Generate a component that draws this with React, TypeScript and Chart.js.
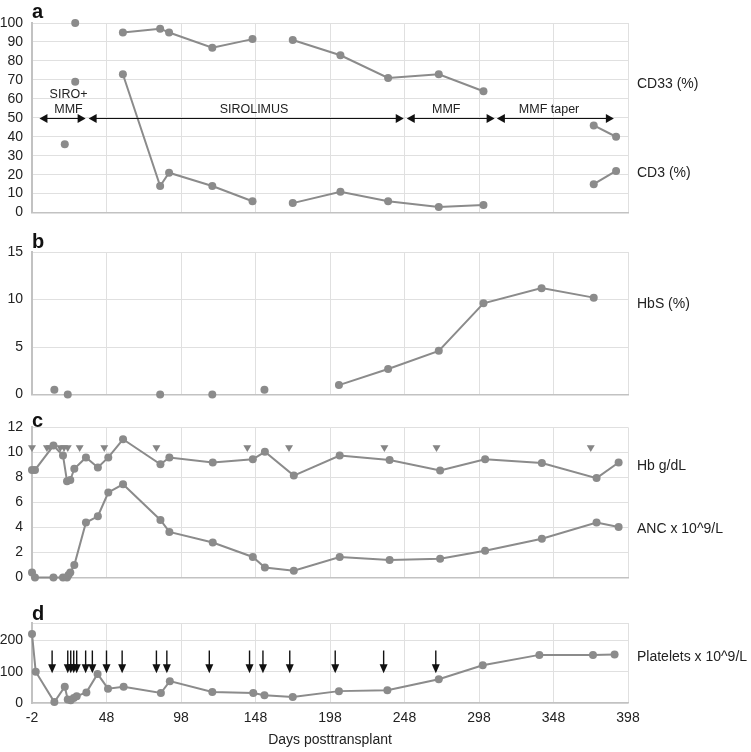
import React, { useEffect, useRef } from "react";
import { Chart, registerables } from "chart.js";

Chart.register(...registerables);

// ---------------- data ----------------
const X_TICKS = [-2, 48, 98, 148, 198, 248, 298, 348, 398];

// Panel a: CD33 / CD3 chimerism (%), null = break in line
const CD33_DAYS = [27, null, 59, 84, 90, 119, 146, null, 173, 205, 237, 271, 301, null, 375, 390];
const CD33_VALUES = [100, null, 95, 97, 95, 87, 91.5, null, 91, 83, 71, 73, 64, null, 46, 40];
const CD3_DAYS = [20, null, 27, null, 59, 84, 90, 119, 146, null, 173, 205, 237, 271, 301, null, 375, 390];
const CD3_VALUES = [36, null, 69, null, 73, 14, 21, 14, 6, null, 5, 11, 6, 3, 4, null, 15, 22];
const CD_TICKS = [0, 10, 20, 30, 40, 50, 60, 70, 80, 90, 100];

// Therapy periods (panel a)
const THERAPY_LABELS = [["SIRO+", "MMF"], ["SIROLIMUS"], ["MMF"], ["MMF taper"]];
const THERAPY_START = [3, 36, 249.5, 310];
const THERAPY_END = [34, 247.5, 308.5, 388.5];
const THERAPY_TEXT_DAY = [22.5, 147, 276, 345];
const THERAPY_LEVEL = 50;

// Panel b: HbS (%)
const HBS_DAYS = [13, null, 22, null, 84, null, 119, null, 154, null, 204, 237, 271, 301, 340, 375];
const HBS_VALUES = [0.5, null, 0, null, 0, null, 0, null, 0.5, null, 1.0, 2.7, 4.6, 9.6, 11.2, 10.2];
const HBS_TICKS = [0, 5, 10, 15];

// Panel c: Hb g/dL and ANC x10^9/L
const HB_DAYS = [-2, 0, 12.4, 18.8, 21.5, 23.7, 26.4, 34.2, 42.2, 49.2, 59.1, 84.2, 90.2, 119.3, 146.2, 154.3, 173.7, 204.5, 238, 271.9, 302.1, 340.2, 376.9, 391.7];
const HB_VALUES = [8.6, 8.6, 10.55, 9.75, 7.7, 7.8, 8.7, 9.6, 8.8, 9.6, 11.05, 9.05, 9.6, 9.2, 9.45, 10.05, 8.15, 9.75, 9.4, 8.55, 9.45, 9.15, 7.95, 9.2];
const ANC_DAYS = [-2, 0, 12.4, 18.8, 21.5, 22.5, 23.7, 26.4, 34.2, 42.2, 49.2, 59.1, 84.2, 90.2, 119.3, 146.2, 154.3, 173.7, 204.5, 238, 271.9, 302.1, 340.2, 376.9, 391.7];
const ANC_VALUES = [0.4, 0, 0, 0, 0, 0.2, 0.4, 1.0, 4.4, 4.9, 6.8, 7.45, 4.6, 3.65, 2.8, 1.65, 0.8, 0.55, 1.65, 1.4, 1.5, 2.15, 3.1, 4.4, 4.05];
const RBC_TX_DAYS = [-2, 8, 10, 17, 19.5, 22, 30, 46.5, 81.5, 142.5, 170.5, 234.5, 269.5, 373];
const RBC_TX_LEVEL = 10.4;
const HB_TICKS = [0, 2, 4, 6, 8, 10, 12];

// Panel d: platelets x10^9/L
const PLT_DAYS = [-2, 0.5, 13, 20, 22, 24, 26, 28, 34.5, 42, 49, 59.5, 84.5, 90.5, 119, 146.5, 154, 173, 204, 236.5, 271, 300.5, 338.5, 374.5, 389];
const PLT_VALUES = [221, 100, 3, 52, 11, 9, 16, 22, 34, 93, 46, 52, 32, 70, 35, 32, 25, 19, 38, 41, 76, 121, 154, 154, 155];
const PLT_TX_DAYS = [11.5, 22, 24, 26, 28, 34, 38.5, 48, 58.5, 81.5, 88.5, 117, 144, 153, 171, 201.5, 234, 269];
const PLT_TICKS = [0, 100, 200];
const PLT_MAX = 256;

// ---------------- styles ----------------
const W = 751;
const LEFT = 32;
const RIGHT = 628;
const FAMILY = "'Liberation Sans', Arial, Helvetica, sans-serif";
const GREY = "#8b8b8b";
const GRID = "#e0e0e0";
const AXIS = "#c2c2c2";
const TEXT = "#222222";

type Seg = { x: number; y: number }[];

function segments(days: (number | null)[], values: (number | null)[]): Seg[] {
  const out: Seg[] = [];
  let cur: Seg = [];
  days.forEach((d, i) => {
    const v = values[i];
    if (d === null || v === null || v === undefined) {
      if (cur.length) out.push(cur);
      cur = [];
    } else {
      cur.push({ x: d, y: v });
    }
  });
  if (cur.length) out.push(cur);
  return out;
}

function lineDs(data: Seg) {
  return {
    data,
    borderColor: GREY,
    backgroundColor: GREY,
    borderWidth: 2,
    pointRadius: 4,
    pointHoverRadius: 4,
    pointBackgroundColor: GREY,
    pointBorderWidth: 0,
    tension: 0,
    clip: false,
    spanGaps: false,
  };
}

type PanelCfg = {
  key: string;
  top: number;
  height: number;
  padTop: number;
  padBottom: number;
  xHeight: number;
  showX: boolean;
  yMax: number;
  yTicks: number[];
  yLabels: number[];
  datasets: any[];
  letter: string;
  letterDy: number;
  labels: { text: string; value: number }[];
  extra?: (chart: any) => void;
};

function drawTherapy(chart: any) {
  const { ctx, scales } = chart;
  const sx = scales.x;
  const sy = scales.y;
  const y = Math.round(sy.getPixelForValue(THERAPY_LEVEL)) + 0.5;
  ctx.strokeStyle = "#111";
  ctx.fillStyle = "#111";
  ctx.lineWidth = 1;
  THERAPY_LABELS.forEach((lines, i) => {
    const x1 = sx.getPixelForValue(THERAPY_START[i]);
    const x2 = sx.getPixelForValue(THERAPY_END[i]);
    ctx.beginPath();
    ctx.moveTo(x1 + 4, y);
    ctx.lineTo(x2 - 4, y);
    ctx.stroke();
    ctx.beginPath();
    ctx.moveTo(x1, y);
    ctx.lineTo(x1 + 8, y - 4.5);
    ctx.lineTo(x1 + 8, y + 4.5);
    ctx.closePath();
    ctx.fill();
    ctx.beginPath();
    ctx.moveTo(x2, y);
    ctx.lineTo(x2 - 8, y - 4.5);
    ctx.lineTo(x2 - 8, y + 4.5);
    ctx.closePath();
    ctx.fill();
  });
  ctx.fillStyle = TEXT;
  ctx.font = `12.5px ${FAMILY}`;
  ctx.textAlign = "center";
  ctx.textBaseline = "middle";
  THERAPY_LABELS.forEach((lines, i) => {
    const xc = sx.getPixelForValue(THERAPY_TEXT_DAY[i]);
    lines.forEach((t, j) => {
      const ty = y - 9 - (lines.length - 1 - j) * 15;
      ctx.fillText(t, xc, ty);
    });
  });
}

function drawPltArrows(chart: any) {
  const { ctx, scales, chartArea } = chart;
  const sx = scales.x;
  const sy = scales.y;
  const yTop = sy.getPixelForValue(168);
  const yTip = sy.getPixelForValue(95);
  ctx.strokeStyle = "#111";
  ctx.fillStyle = "#111";
  ctx.lineWidth = 1.4;
  PLT_TX_DAYS.forEach((d) => {
    const x = sx.getPixelForValue(d);
    ctx.beginPath();
    ctx.moveTo(x, yTop);
    ctx.lineTo(x, yTip - 6);
    ctx.stroke();
    ctx.beginPath();
    ctx.moveTo(x - 4, yTip - 9);
    ctx.lineTo(x + 4, yTip - 9);
    ctx.lineTo(x, yTip);
    ctx.closePath();
    ctx.fill();
  });
  ctx.fillStyle = TEXT;
  ctx.font = `14px ${FAMILY}`;
  ctx.textAlign = "center";
  ctx.textBaseline = "middle";
  ctx.fillText("Days posttransplant", (chartArea.left + chartArea.right) / 2, chartArea.bottom + 37);
}

const PANELS: PanelCfg[] = [
  {
    key: "a",
    top: 0,
    height: 230,
    padTop: 23,
    padBottom: 17,
    xHeight: 0,
    showX: false,
    yMax: 100,
    yTicks: CD_TICKS,
    yLabels: CD_TICKS,
    datasets: [...segments(CD33_DAYS, CD33_VALUES), ...segments(CD3_DAYS, CD3_VALUES)].map(lineDs),
    letter: "a",
    letterDy: -4.7,
    labels: [
      { text: "CD33 (%)", value: 67.5 },
      { text: "CD3 (%)", value: 21 },
    ],
    extra: drawTherapy,
  },
  {
    key: "b",
    top: 232,
    height: 180,
    padTop: 20,
    padBottom: 15,
    xHeight: 0,
    showX: false,
    yMax: 15,
    yTicks: HBS_TICKS,
    yLabels: HBS_TICKS,
    datasets: segments(HBS_DAYS, HBS_VALUES).map(lineDs),
    letter: "b",
    letterDy: -4,
    labels: [{ text: "HbS (%)", value: 9.5 }],
  },
  {
    key: "c",
    top: 410,
    height: 185,
    padTop: 17,
    padBottom: 17,
    xHeight: 0,
    showX: false,
    yMax: 12,
    yTicks: HB_TICKS,
    yLabels: HB_TICKS,
    datasets: [
      ...segments(HB_DAYS, HB_VALUES).map(lineDs),
      ...segments(ANC_DAYS, ANC_VALUES).map(lineDs),
      {
        data: RBC_TX_DAYS.map((d) => ({ x: d, y: RBC_TX_LEVEL })),
        showLine: false,
        pointStyle: "triangle",
        rotation: 180,
        pointRadius: 4.6,
        pointHoverRadius: 4.6,
        pointBackgroundColor: "#858585",
        pointBorderWidth: 0,
        borderColor: "#858585",
        backgroundColor: "#858585",
        clip: false,
      },
    ],
    letter: "c",
    letterDy: -0.5,
    labels: [
      { text: "Hb g/dL", value: 8.9 },
      { text: "ANC x 10^9/L", value: 3.9 },
    ],
  },
  {
    key: "d",
    top: 600,
    height: 152,
    padTop: 23,
    padBottom: 0,
    xHeight: 49,
    showX: true,
    yMax: PLT_MAX,
    yTicks: [...PLT_TICKS, PLT_MAX],
    yLabels: PLT_TICKS,
    datasets: segments(PLT_DAYS, PLT_VALUES).map(lineDs),
    letter: "d",
    letterDy: -3,
    labels: [{ text: "Platelets x 10^9/L", value: 146 }],
    extra: drawPltArrows,
  },
];

function Panel({ cfg }: { cfg: PanelCfg }) {
  const ref = useRef<HTMLCanvasElement | null>(null);
  useEffect(() => {
    if (!ref.current) return;
    const font = { family: FAMILY, size: 14 };
    const annot = {
      id: "annot_" + cfg.key,
      afterDraw(chart: any) {
        const { ctx, chartArea, scales } = chart;
        ctx.save();
        ctx.fillStyle = "#111";
        ctx.textAlign = "left";
        ctx.textBaseline = "alphabetic";
        ctx.font = `bold 20px ${FAMILY}`;
        ctx.fillText(cfg.letter, chartArea.left, chartArea.top + cfg.letterDy);
        ctx.fillStyle = TEXT;
        ctx.font = `14px ${FAMILY}`;
        ctx.textBaseline = "middle";
        cfg.labels.forEach((l) => {
          ctx.fillText(l.text, chartArea.right + 9, scales.y.getPixelForValue(l.value));
        });
        if (cfg.extra) cfg.extra(chart);
        ctx.restore();
      },
    };
    const chart = new Chart(ref.current, {
      type: "line",
      data: { datasets: cfg.datasets },
      options: {
        responsive: false,
        animation: false,
        events: [],
        layout: { padding: { top: cfg.padTop, bottom: cfg.padBottom, left: 0, right: W - RIGHT } },
        plugins: { legend: { display: false }, tooltip: { enabled: false } },
        scales: {
          x: {
            type: "linear",
            min: -2,
            max: 398,
            afterBuildTicks: (s: any) => {
              s.ticks = X_TICKS.map((v) => ({ value: v }));
            },
            afterFit: (s: any) => {
              s.height = cfg.xHeight;
            },
            grid: { color: GRID, drawTicks: false, lineWidth: 1 },
            border: { color: AXIS, width: 1.5 },
            ticks: {
              display: cfg.showX,
              padding: 7,
              font,
              color: TEXT,
              maxRotation: 0,
              autoSkip: false,
              callback: (v: any) => String(v),
            },
          },
          y: {
            type: "linear",
            min: 0,
            max: cfg.yMax,
            afterBuildTicks: (s: any) => {
              s.ticks = cfg.yTicks.map((v) => ({ value: v }));
            },
            afterFit: (s: any) => {
              s.width = LEFT;
            },
            grid: { color: GRID, drawTicks: false, lineWidth: 1 },
            border: { color: AXIS, width: 2 },
            ticks: {
              padding: 9,
              font,
              color: TEXT,
              autoSkip: false,
              callback: (v: any) => (cfg.yLabels.includes(v) ? String(v) : ""),
            },
          },
        },
      } as any,
      plugins: [annot],
    });
    return () => chart.destroy();
  }, []);
  return (
    <canvas
      ref={ref}
      width={W}
      height={cfg.height}
      style={{ position: "absolute", left: 0, top: cfg.top, width: W, height: cfg.height }}
    />
  );
}

export default function App() {
  return (
    <div style={{ position: "absolute", left: 0, top: 0, width: W, height: 752, background: "#fff", overflow: "hidden" }}>
      {PANELS.map((p) => (
        <Panel key={p.key} cfg={p} />
      ))}
    </div>
  );
}
